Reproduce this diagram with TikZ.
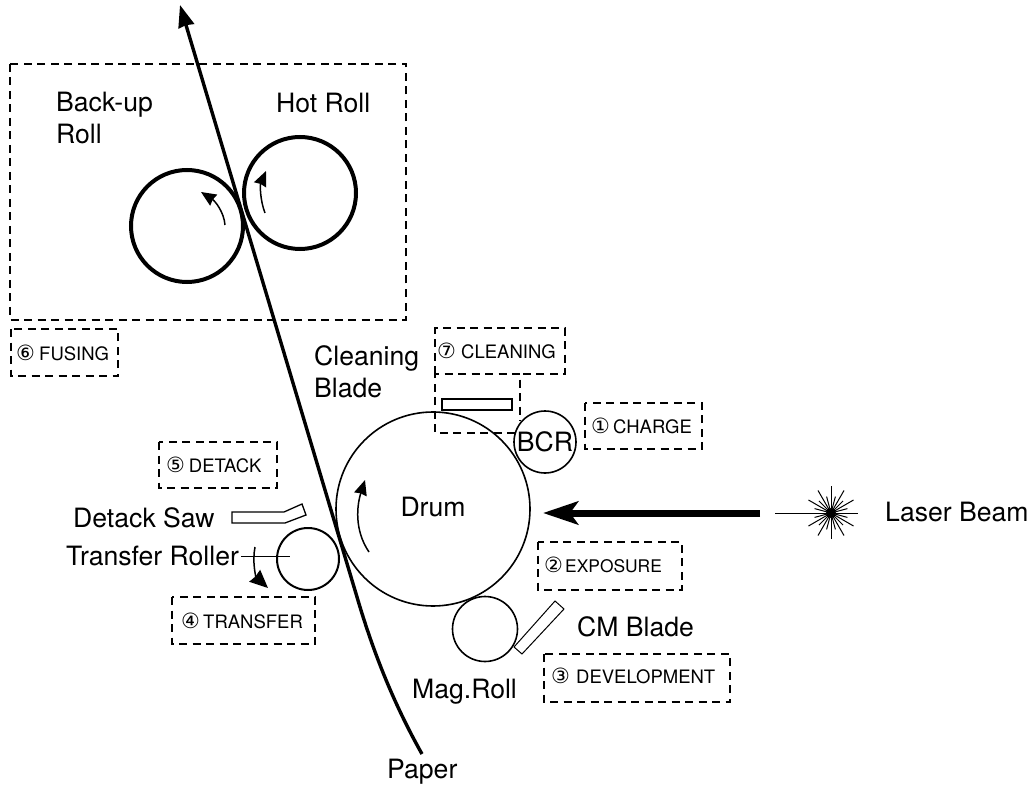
\documentclass[tikz,border=0pt]{standalone}
\usepackage{fontspec}
\setmainfont{TeX Gyre Heros}
\newfontfamily\symfont{DejaVu Sans}
\usetikzlibrary{arrows.meta}
\newcommand{\bigsz}{\fontsize{26.6}{32}\selectfont}
\newcommand{\cn}[2]{\makebox[#1pt][l]{\symfont\fontsize{21}{21}\selectfont #2}}
\tikzset{
  lbl/.style={inner sep=0pt,font=\bigsz,align=left},
  small/.style={inner sep=0pt,font=\fontsize{18.5}{22}\selectfont},
  dashbox/.style={draw,line width=1.3pt,dash pattern=on 8pt off 5.5pt},
  roll/.style={draw,circle,line width=1.6pt,inner sep=0pt,outer sep=0pt},
  heat/.style={draw,circle,line width=4pt,inner sep=0pt,outer sep=0pt},
  part/.style={draw,line width=1.3pt,fill=white},
  turn/.style={line width=1.5pt,-{Stealth[length=15pt,width=13pt,inset=1pt]}},
  paperline/.style={line width=3.4pt,-{Stealth[length=22pt,width=16pt,inset=1pt]}},
}
\begin{document}
\begin{tikzpicture}[x=1pt,y=-1pt]
\useasboundingbox (0,0) rectangle (1035,791);
% dashed frames
\draw[dashbox] (10,64) rectangle (406,320);
\draw[dashbox] (11,329) rectangle (118,376);
\draw[dashbox] (435,374) -- (435,328) -- (565,328) -- (565,374) -- (520,374);
\draw[dashbox] (515,433) -- (435,433) -- (435,374) -- (520,374) -- (520,421);
\draw[dashbox] (585,403) rectangle (702,449);
\draw[dashbox] (159,442) rectangle (277,488);
\draw[dashbox] (172,597) rectangle (315,644);
\draw[dashbox] (538,542) rectangle (682,590);
\draw[dashbox] (544,654) rectangle (730,702);
% rollers
\node[heat,minimum size=112pt] (hot) at (300,193) {};
\node[heat,minimum size=112pt] (backup) at (187,226) {};
\node[roll,minimum size=194pt] (drum) at (433,509) {};
\node[roll,minimum size=62pt,fill=none] (bcr) at (545,442) {};
\node[roll,line width=2pt,minimum size=62pt] (transfer) at (308,559) {};
\node[roll,minimum size=65pt] (mag) at (485,629) {};
% paper
\coordinate (pstart) at (422,754);
\coordinate (pbend) at (357,597);
\coordinate (ptip) at (180,5);
\draw[paperline] (pstart) .. controls (395,706) and (374,655) .. (pbend) -- (ptip);
% parts
\draw[part] (442,399) rectangle (512,410);
\draw[part] (232,512) -- (284,512) -- (302,504) -- (306,515) -- (285,523) -- (232,523) -- cycle;
\draw[part,line width=1pt] (555,601) -- (564,609) -- (522,654) -- (514,647) -- cycle;
% rotation arrows
\coordinate (a1s) at (225,225); \coordinate (a1e) at (201,192);
\coordinate (a2s) at (265,213); \coordinate (a2e) at (266,171);
\coordinate (a3s) at (369,552); \coordinate (a3e) at (365,480);
\coordinate (a4s) at (255,547); \coordinate (a4e) at (268,588);
\draw[turn] (a1s) .. controls (224,212) and (215,201) .. (a1e);
\draw[turn] (a2s) .. controls (260,200) and (260,185) .. (a2e);
\draw[turn] (a3s) .. controls (354,530) and (357,505) .. (a3e);
\draw[line width=1.5pt,-{Stealth[length=18pt,width=16pt,inset=1pt]}] (a4s) .. controls (252,562) and (256,577) .. (a4e);
% transfer roller leader
\node[lbl,anchor=west] (ltransfer) at (66,556) {Transfer Roller};
\coordinate (tin) at (290,556);
\draw[line width=1pt] (ltransfer.east) ++(2,0) -- (tin);
% laser
\coordinate (burst) at (831,513);
\foreach \a in {30,60,120,150,210,240,300,330}{\draw[line width=1pt] (burst) -- ++(\a:26);}
\foreach \a in {15,45,75,105,135,165,195,225,255,285,315,345}{\draw[line width=1pt] (burst) -- ++(\a:17);}
\fill (burst) circle (5pt);
\coordinate (bl) at (775,513); \coordinate (br) at (858,513);
\coordinate (bt) at (831,486); \coordinate (bb) at (831,539);
\draw[line width=1pt] (bl) -- (br);
\draw[line width=1pt] (bt) -- (bb);
\coordinate (ls) at (760,513); \coordinate (le) at (543,513);
\draw[line width=7pt,-{Stealth[length=35pt,width=23pt,inset=8pt]}] (ls) -- (le);
% labels
\node[lbl,anchor=west] (lback) at (56,118) {Back-up\\Roll};
\node[lbl,anchor=west] (lhot) at (276,103) {Hot Roll};
\node[lbl,anchor=west] (lclean) at (314,372) {Cleaning\\Blade};
\node[lbl] (ldrum) at (433,507) {Drum};
\node[lbl] (lbcr) at (545,442) {BCR};
\node[lbl,anchor=west] (llaser) at (885,512) {Laser Beam};
\node[lbl,anchor=west] (lsaw) at (73,518) {Detack Saw};
\node[lbl,anchor=west] (lcm) at (577,627) {CM Blade};
\node[lbl,anchor=west] (lmag) at (412,692) {Mag.Roll};
\node[lbl,anchor=west] (lpaper) at (387,772) {Paper};
% step labels
\node[small,anchor=west] (s1) at (591,426) {\cn{22}{①}CHARGE};
\node[small,anchor=west,font=\fontsize{17.4}{22}\selectfont] (s2) at (544,565) {\cn{21}{②}EXPOSURE};
\node[small,anchor=west] (s3) at (551,676) {\cn{25}{③}DEVELOPMENT};
\node[small,anchor=west] (s4) at (181,621) {\cn{22}{④}TRANSFER};
\node[small,anchor=west] (s5) at (166,465) {\cn{22.7}{⑤}DETACK};
\node[small,anchor=west] (s6) at (16,353) {\cn{23}{⑥}FUSING};
\node[small,anchor=west] (s7) at (437,351) {\cn{24}{⑦}CLEANING};
\end{tikzpicture}
\end{document}
